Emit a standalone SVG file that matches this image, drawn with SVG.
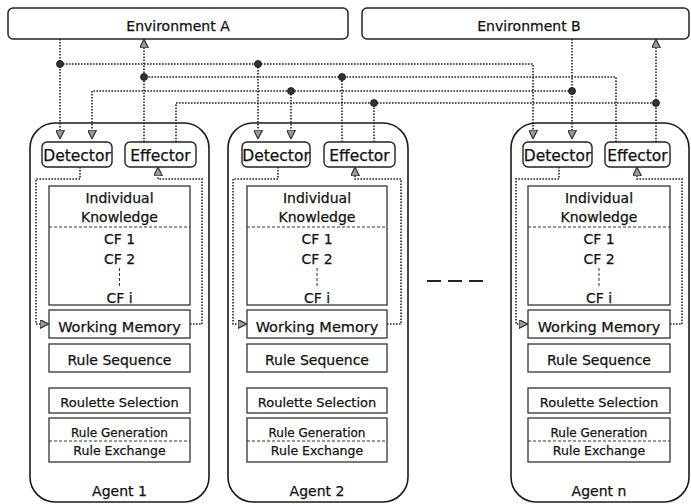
<svg xmlns="http://www.w3.org/2000/svg" width="691" height="504" viewBox="0 0 691 504">
  <style>
    text { font-family: "DejaVu Sans", "Liberation Sans", sans-serif; fill: #111; stroke: #111; stroke-width: 0.25; text-anchor: middle; }
    .env { fill: #fff; stroke: #222; stroke-width: 1.5; }
    .agent { fill: #fff; stroke: #1a1a1a; stroke-width: 1.6; }
    .port { fill: #fff; stroke: #222; stroke-width: 1.4; }
    .box { fill: #fff; stroke: #333; stroke-width: 1.3; }
    .div { stroke: #333; stroke-width: 1; stroke-dasharray: 3 2; fill: none; }
    .dot { fill: none; stroke: #222; stroke-width: 1.6; stroke-dasharray: 1.6 1.4; }
    .node { fill: #333; stroke: #111; stroke-width: 0.8; }
    .sep { stroke: #222; stroke-width: 2; stroke-dasharray: 14 7; fill: none; }
    .t14 { font-size: 14px; }
    .port-t { font-size: 15.5px; }
    .wm { font-size: 14.5px; }
    .rs { font-size: 14px; }
    .rsel { font-size: 13px; }
    .rgen { font-size: 12px; }
    .rex { font-size: 12.5px; }
  </style>
  <defs>
    <marker id="arrow" viewBox="0 0 10 10" refX="9" refY="5" markerWidth="9" markerHeight="9" markerUnits="userSpaceOnUse" orient="auto">
      <path d="M0,0 L10,5 L0,10 z" fill="#9a9a9a" stroke="#222" stroke-width="1.2"/>
    </marker>
  </defs>

  <!-- environments -->
  <g id="envA">
    <rect class="env" x="8" y="8" width="340" height="31" rx="5"/>
    <text class="t14" x="178" y="31">Environment A</text>
  </g>
  <g id="envB">
    <rect class="env" x="362" y="8" width="327" height="31" rx="5"/>
    <text class="t14" x="529" y="31">Environment B</text>
  </g>

  <!-- Agent 1 -->
  <g id="agent1">
    <rect class="agent" x="30" y="123" width="179" height="379" rx="25"/>
    <rect class="port" x="42" y="142" width="70" height="25" rx="5"/>
    <text class="port-t" x="77" y="161">Detector</text>
    <rect class="port" x="125" y="142" width="71" height="25" rx="5"/>
    <text class="port-t" x="160.5" y="161">Effector</text>
    <rect class="box" x="49" y="186" width="141" height="119"/>
    <line class="div" x1="49" y1="227" x2="190" y2="227"/>
    <text class="t14" x="119.5" y="203">Individual</text>
    <text class="t14" x="119.5" y="222">Knowledge</text>
    <text class="t14" x="119.5" y="244">CF 1</text>
    <text class="t14" x="119.5" y="264">CF 2</text>
    <line class="div" x1="119.5" y1="268" x2="119.5" y2="287"/>
    <text class="t14" x="119.5" y="303">CF i</text>
    <rect class="box" x="49" y="310" width="141" height="28"/>
    <text class="wm" x="119.5" y="332">Working Memory</text>
    <rect class="box" x="49" y="344" width="141" height="28"/>
    <text class="rs" x="119.5" y="365">Rule Sequence</text>
    <rect class="box" x="49" y="388" width="141" height="25"/>
    <text class="rsel" x="119.5" y="407">Roulette Selection</text>
    <rect class="box" x="49" y="418" width="141" height="44"/>
    <line class="div" x1="49" y1="441" x2="190" y2="441"/>
    <text class="rgen" x="119.5" y="437">Rule Generation</text>
    <text class="rex" x="119.5" y="455">Rule Exchange</text>
    <text class="t14" x="119.5" y="496">Agent 1</text>
    <path class="dot" d="M80,167 V179 H36 V324 H48" marker-end="url(#arrow)"/>
    <path class="dot" d="M190,324 H202 V179 H158 V168" marker-end="url(#arrow)"/>
  </g>

  <!-- Agent 2 -->
  <g id="agent2">
    <rect class="agent" x="228" y="123" width="180" height="379" rx="25"/>
    <rect class="port" x="242" y="142" width="68" height="25" rx="5"/>
    <text class="port-t" x="276" y="161">Detector</text>
    <rect class="port" x="324" y="142" width="71" height="25" rx="5"/>
    <text class="port-t" x="359.5" y="161">Effector</text>
    <rect class="box" x="247" y="186" width="140" height="119"/>
    <line class="div" x1="247" y1="227" x2="387" y2="227"/>
    <text class="t14" x="317" y="203">Individual</text>
    <text class="t14" x="317" y="222">Knowledge</text>
    <text class="t14" x="317" y="244">CF 1</text>
    <text class="t14" x="317" y="264">CF 2</text>
    <line class="div" x1="317" y1="268" x2="317" y2="287"/>
    <text class="t14" x="317" y="303">CF i</text>
    <rect class="box" x="247" y="310" width="140" height="28"/>
    <text class="wm" x="317" y="332">Working Memory</text>
    <rect class="box" x="247" y="344" width="140" height="28"/>
    <text class="rs" x="317" y="365">Rule Sequence</text>
    <rect class="box" x="247" y="388" width="140" height="25"/>
    <text class="rsel" x="317" y="407">Roulette Selection</text>
    <rect class="box" x="247" y="418" width="140" height="44"/>
    <line class="div" x1="247" y1="441" x2="387" y2="441"/>
    <text class="rgen" x="317" y="437">Rule Generation</text>
    <text class="rex" x="317" y="455">Rule Exchange</text>
    <text class="t14" x="317" y="496">Agent 2</text>
    <path class="dot" d="M278,167 V179 H233 V324 H246" marker-end="url(#arrow)"/>
    <path class="dot" d="M387,324 H401 V179 H355 V168" marker-end="url(#arrow)"/>
  </g>

  <!-- omitted agents -->
  <line class="sep" x1="427" y1="281" x2="483" y2="281"/>

  <!-- Agent n -->
  <g id="agentN">
    <rect class="agent" x="511" y="123" width="178" height="379" rx="25"/>
    <rect class="port" x="523" y="142" width="69" height="25" rx="5"/>
    <text class="port-t" x="557.5" y="161">Detector</text>
    <rect class="port" x="605" y="142" width="65" height="25" rx="5"/>
    <text class="port-t" x="637.5" y="161">Effector</text>
    <rect class="box" x="528" y="186" width="142" height="119"/>
    <line class="div" x1="528" y1="227" x2="670" y2="227"/>
    <text class="t14" x="599" y="203">Individual</text>
    <text class="t14" x="599" y="222">Knowledge</text>
    <text class="t14" x="599" y="244">CF 1</text>
    <text class="t14" x="599" y="264">CF 2</text>
    <line class="div" x1="599" y1="268" x2="599" y2="287"/>
    <text class="t14" x="599" y="303">CF i</text>
    <rect class="box" x="528" y="310" width="142" height="28"/>
    <text class="wm" x="599" y="332">Working Memory</text>
    <rect class="box" x="528" y="344" width="142" height="28"/>
    <text class="rs" x="599" y="365">Rule Sequence</text>
    <rect class="box" x="528" y="388" width="142" height="25"/>
    <text class="rsel" x="599" y="407">Roulette Selection</text>
    <rect class="box" x="528" y="418" width="142" height="44"/>
    <line class="div" x1="528" y1="441" x2="670" y2="441"/>
    <text class="rgen" x="599" y="437">Rule Generation</text>
    <text class="rex" x="599" y="455">Rule Exchange</text>
    <text class="t14" x="599" y="496">Agent n</text>
    <path class="dot" d="M559,167 V179 H516 V324 H527" marker-end="url(#arrow)"/>
    <path class="dot" d="M670,324 H682 V179 H637 V168" marker-end="url(#arrow)"/>
  </g>

  <!-- connectors between environments and agents -->
  <g id="connectors">
    <!-- Environment A to every detector -->
    <path class="dot" d="M60,39 V138" marker-end="url(#arrow)"/>
    <path class="dot" d="M60,64 H533 V138" marker-end="url(#arrow)"/>
    <path class="dot" d="M258,64 V138" marker-end="url(#arrow)"/>
    <!-- every effector to Environment A -->
    <path class="dot" d="M144,142 V40" marker-end="url(#arrow)"/>
    <path class="dot" d="M616,142 V77 H144"/>
    <path class="dot" d="M342,142 V77"/>
    <!-- Environment B to every detector -->
    <path class="dot" d="M572,39 V138" marker-end="url(#arrow)"/>
    <path class="dot" d="M572,91 H92 V138" marker-end="url(#arrow)"/>
    <path class="dot" d="M291,91 V138" marker-end="url(#arrow)"/>
    <!-- every effector to Environment B -->
    <path class="dot" d="M656,142 V40" marker-end="url(#arrow)"/>
    <path class="dot" d="M176,142 V103 H656"/>
    <path class="dot" d="M374,142 V103"/>
    <!-- junctions -->
    <circle class="node" cx="60" cy="64" r="3.5"/>
    <circle class="node" cx="258" cy="64" r="3.5"/>
    <circle class="node" cx="144" cy="77" r="3.5"/>
    <circle class="node" cx="342" cy="77" r="3.5"/>
    <circle class="node" cx="291" cy="91" r="3.5"/>
    <circle class="node" cx="572" cy="91" r="3.5"/>
    <circle class="node" cx="374" cy="103" r="3.5"/>
    <circle class="node" cx="656" cy="103" r="3.5"/>
  </g>
</svg>
